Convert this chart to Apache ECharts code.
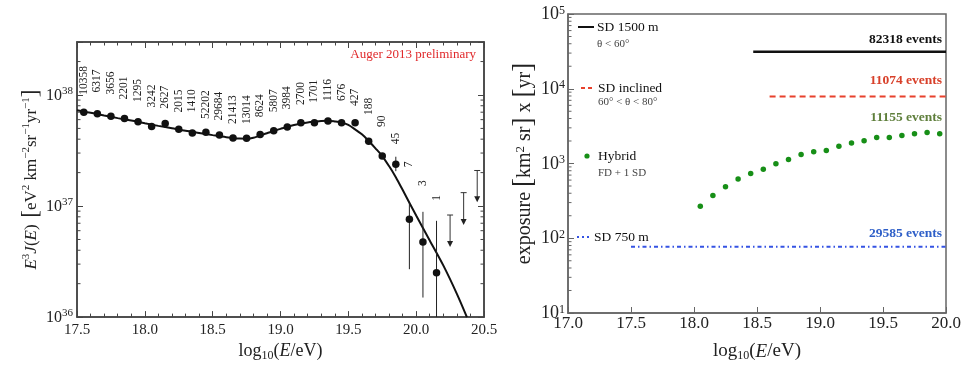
<!DOCTYPE html>
<html><head><meta charset="utf-8">
<script src="https://cdn.jsdelivr.net/npm/echarts@6/dist/echarts.min.js"></script>
<style>html,body{margin:0;padding:0;background:#fff}#c{width:969px;height:367px}</style>
</head><body><div id="c"></div><script>
// ---------- Left panel: energy spectrum ----------
const binCenters = [17.55,17.65,17.75,17.85,17.95,18.05,18.15,18.25,18.35,18.45,18.55,18.65,18.75,18.85,18.95,19.05,19.15,19.25,19.35,19.45,19.55,19.65,19.75,19.85,19.95,20.05,20.15];
const fluxValues = [6.98e37,6.79e37,6.44e37,6.14e37,5.74e37,5.20e37,5.54e37,4.92e37,4.54e37,4.61e37,4.36e37,4.10e37,4.08e37,4.40e37,4.77e37,5.16e37,5.63e37,5.63e37,5.82e37,5.63e37,5.63e37,3.84e37,2.82e37,2.38e37,7.60e36,4.75e36,2.51e36];
const eventCounts = ['10358','6317','3656','2201','1295','3242','2627','2015','1410','52202','29684','21413','13014','8624','5807','3984','2700','1701','1116','676','427','188','90','45','7','3','1'];
const errorBins = [19.65,19.75,19.85,19.95,20.05,20.15];
const errorLow = [3.70e37,2.68e37,2.06e37,2.70e36,1.50e36,1.0e36];
const errorHigh = [3.98e37,2.97e37,2.78e37,1.06e37,8.87e36,7.36e36];
const limitBins = [20.25,20.35,20.45];
const limitTop = [8.30e36,1.32e37,2.09e37];
const limitTip = [4.27e36,6.76e36,1.08e37];
const fitEnergy = [17.5,17.55,17.6,17.7,17.8,17.9,18.0,18.1,18.2,18.3,18.4,18.5,18.6,18.7,18.75,18.8,18.9,19.0,19.1,19.2,19.3,19.35,19.4,19.45,19.5,19.55,19.6,19.65,19.7,19.75,19.8,19.85,19.9,20.0,20.1,20.2,20.3,20.374];
const fitFlux = [7.28e37,7.08e37,6.92e37,6.53e37,6.19e37,5.89e37,5.56e37,5.27e37,5.01e37,4.76e37,4.55e37,4.35e37,4.17e37,4.05e37,4.04e37,4.12e37,4.52e37,4.95e37,5.37e37,5.65e37,5.82e37,5.86e37,5.78e37,5.65e37,5.37e37,4.90e37,4.42e37,3.85e37,3.31e37,2.82e37,2.29e37,1.82e37,1.40e37,8.22e36,4.90e36,2.92e36,1.62e36,1.0e36];
const spectrumXRange = [17.5, 20.5];
const spectrumYRange = [1e36, 3e38];
const spectrumMinorTicks = [2e36,3e36,4e36,5e36,6e36,7e36,8e36,9e36,2e37,3e37,4e37,5e37,6e37,7e37,8e37,9e37,2e38];
const spectrumTitle = 'Auger 2013 preliminary';

// ---------- Right panel: exposure ----------
const exposureXRange = [17.0, 20.0];
const exposureYRange = [1e1, 1e5];
const exposureMinorTicks = [20,30,40,50,60,70,80,90,200,300,400,500,600,700,800,900,2e3,3e3,4e3,5e3,6e3,7e3,8e3,9e3,2e4,3e4,4e4,5e4,6e4,7e4,8e4,9e4];
const hybridEnergy = [18.05,18.15,18.25,18.35,18.45,18.55,18.65,18.75,18.85,18.95,19.05,19.15,19.25,19.35,19.45,19.55,19.65,19.75,19.85,19.95];
const hybridExposure = [267,373,490,618,735,838,993,1132,1318,1432,1491,1702,1881,2015,2233,2233,2372,2494,2603,2494];
const sd1500Range = [18.47, 20.0];
const sd1500Exposure = 31300;
const sdInclinedRange = [18.6, 20.0];
const sdInclinedExposure = 7900;
const sd750Range = [17.5, 20.0];
const sd750Exposure = 77;
const legendNames = ['SD 1500 m','SD inclined','Hybrid','SD 750 m'];
const legendNotes = ['θ < 60°','60° < θ < 80°','FD + 1 SD',''];
const eventTotals = ['82318 events','11074 events','11155 events','29585 events'];

// ---------- styling (not data) ----------
const SERIF = 'Liberation Serif';
const AX = '#444';
const labelGap = [17.6,21,21.7,19,19.7,19,14.7,16.7,20.7,13.3,14.4,14,14.3,17.3,18.3,17.6,17.7,20,20,21.7,16.7,24,26,16,51,54,70];
const labelShift = [0,0,0,0,0,0,0,0,0,0,0,0,0,0,0,0,0,0,0,0,0,2,3,4,1,2,2];
const C_BLACK = '#111', C_RED = '#e8412c', C_GREEN = '#178f17', C_BLUE = '#3553e3';

function powLabel(v) {
  const e = Math.log10(v);
  const r = Math.round(e);
  if (Math.abs(e - r) > 1e-6) return '';
  return '{n|10}{s|' + r + '}';
}
const powRich = (fs, ss) => ({
  n: {fontFamily: SERIF, fontSize: fs, color: '#222', verticalAlign: 'bottom'},
  s: {fontFamily: SERIF, fontSize: ss, color: '#222', verticalAlign: 'bottom', padding: [0,0,7,0]}
});
const nameRich = (fs) => ({
  n: {fontFamily: SERIF, fontSize: fs, color: '#222', verticalAlign: 'top'},
  i: {fontFamily: SERIF, fontSize: fs, color: '#222', fontStyle: 'italic', verticalAlign: 'top'},
  d: {fontFamily: SERIF, fontSize: Math.round(fs*0.65), color: '#222', verticalAlign: 'top', padding: [8,0,0,0]}
});
const yNameRich = (fs) => ({
  n: {fontFamily: SERIF, fontSize: fs, color: '#222', verticalAlign: 'bottom'},
  i: {fontFamily: SERIF, fontSize: fs, color: '#222', fontStyle: 'italic', verticalAlign: 'bottom'},
  s: {fontFamily: SERIF, fontSize: Math.round(fs*0.65), color: '#222', verticalAlign: 'bottom', padding: [0,0,8,0]},
  b: {fontFamily: SERIF, fontSize: Math.round(fs*1.35), color: '#222', verticalAlign: 'bottom', padding: [0,0,-2,0]}
});

const pointData = binCenters.map((x, i) => ({
  value: [x, fluxValues[i]],
  label: {distance: labelGap[i] - 3.7, offset: [labelShift[i], 0]}
}));

function errRender(params, api) {
  const x = api.value(0);
  const p1 = api.coord([x, api.value(1)]);
  const p2 = api.coord([x, api.value(2)]);
  return {type: 'line', shape: {x1: p1[0], y1: p1[1], x2: p2[0], y2: p2[1]}, style: {stroke: '#222', lineWidth: 1}};
}
function limitRender(params, api) {
  const x = api.value(0);
  const pt = api.coord([x, api.value(1)]);
  const pb = api.coord([x, api.value(2)]);
  return {type: 'group', children: [
    {type: 'line', shape: {x1: pt[0], y1: pt[1], x2: pb[0], y2: pb[1] - 4}, style: {stroke: '#333', lineWidth: 1}},
    {type: 'line', shape: {x1: pt[0] - 3, y1: pt[1], x2: pt[0] + 3, y2: pt[1]}, style: {stroke: '#333', lineWidth: 1}},
    {type: 'polygon', shape: {points: [[pb[0] - 3, pb[1] - 6], [pb[0] + 3, pb[1] - 6], [pb[0], pb[1]]]}, style: {fill: '#222'}}
  ]};
}
// minor log ticks drawn on the frame edges (axis decoration)
function minorTickRender(xRange, both, color) {
  return function (params, api) {
    const v = api.value(0);
    const pl = api.coord([xRange[0], v]);
    const pr = api.coord([xRange[1], v]);
    const kids = [{type: 'line', shape: {x1: pl[0], y1: pl[1], x2: pl[0] + 3.5, y2: pl[1]}, style: {stroke: color, lineWidth: 1}}];
    if (both) kids.push({type: 'line', shape: {x1: pr[0] - 3.5, y1: pr[1], x2: pr[0], y2: pr[1]}, style: {stroke: color, lineWidth: 1}});
    return {type: 'group', children: kids};
  };
}

const chart = echarts.init(document.getElementById('c'), null, {renderer: 'canvas'});
const tickInside = (len, color) => ({show: true, inside: true, length: len, lineStyle: {color: color || AX, width: 1}});

const option = {
  animation: false,
  backgroundColor: '#fff',
  grid: [
    {left: 77, right: 485, top: 42, bottom: 42, show: true, borderColor: AX, borderWidth: 1.5, backgroundColor: 'transparent'},
    {left: 568, right: 23, top: 14, bottom: 49, show: true, borderColor: '#666', borderWidth: 1.5, backgroundColor: 'transparent'}
  ],
  xAxis: [
    {gridIndex: 0, type: 'value', min: spectrumXRange[0], max: spectrumXRange[1], interval: 0.5,
     axisLine: {show: true, onZero: false, lineStyle: {color: AX, width: 1.5}},
     axisTick: tickInside(6), minorTick: {show: true, splitNumber: 5, length: 3.5, lineStyle: {color: AX}},
     splitLine: {show: false},
     axisLabel: {fontFamily: SERIF, fontSize: 15, color: '#222', margin: 5, formatter: v => v.toFixed(1)},
     name: '{n|log}{d|10}{n|(}{i|E}{n|/eV)}', nameLocation: 'middle', nameGap: 21,
     nameTextStyle: {rich: nameRich(18)}},
    {gridIndex: 0, type: 'value', position: 'top', min: spectrumXRange[0], max: spectrumXRange[1], interval: 0.5,
     axisLine: {show: true, onZero: false, lineStyle: {color: AX, width: 1.5}},
     axisTick: tickInside(6), minorTick: {show: true, splitNumber: 5, length: 3.5, lineStyle: {color: AX}},
     splitLine: {show: false}, axisLabel: {show: false}},
    {gridIndex: 1, type: 'value', min: exposureXRange[0], max: exposureXRange[1], interval: 0.5,
     axisLine: {show: true, onZero: false, lineStyle: {color: '#666', width: 1.5}},
     axisTick: tickInside(6, '#666'), splitLine: {show: false},
     axisLabel: {fontFamily: SERIF, fontSize: 17, color: '#222', margin: 2, formatter: v => v.toFixed(1)},
     name: '{n|log}{d|10}{n|(}{i|E}{n|/eV)}', nameLocation: 'middle', nameGap: 29,
     nameTextStyle: {rich: nameRich(19)}}
  ],
  yAxis: [
    {gridIndex: 0, type: 'log', logBase: 10, min: spectrumYRange[0], max: spectrumYRange[1],
     axisLine: {show: true, onZero: false, lineStyle: {color: AX, width: 1.5}},
     axisTick: tickInside(6), splitLine: {show: false},
     axisLabel: {margin: 4, formatter: powLabel, rich: powRich(16, 11)},
     name: '{i|E}{s|3}{i|J}{n|(}{i|E}{n|)}  {b|[}{n|eV}{s|2}{n| km}{s|−2}{n|sr}{s|−1}{n|yr}{s|−1}{b|]}',
     nameLocation: 'middle', nameRotate: 90, nameGap: 36,
     nameTextStyle: {rich: yNameRich(17)}},
    {gridIndex: 0, type: 'log', logBase: 10, position: 'right', min: spectrumYRange[0], max: spectrumYRange[1],
     axisLine: {show: true, onZero: false, lineStyle: {color: AX, width: 1.5}},
     axisTick: tickInside(6), splitLine: {show: false}, axisLabel: {show: false}},
    {gridIndex: 1, type: 'log', logBase: 10, min: exposureYRange[0], max: exposureYRange[1],
     axisLine: {show: true, onZero: false, lineStyle: {color: '#666', width: 1.5}},
     axisTick: tickInside(6, '#666'), splitLine: {show: false},
     axisLabel: {margin: 3, formatter: powLabel, rich: powRich(18, 12)},
     name: '{n|exposure }{b|[}{n|km}{s|2}{n| sr}{b|]}{n| x }{b|[}{n|yr}{b|]}',
     nameLocation: 'middle', nameRotate: 90, nameGap: 30,
     nameTextStyle: {rich: yNameRich(20)}}
  ],
  series: [
    {type: 'custom', xAxisIndex: 0, yAxisIndex: 0, renderItem: minorTickRender(spectrumXRange, true, AX),
     data: spectrumMinorTicks.map(v => [v]), encode: {y: 0}, silent: true, z: 1},
    {type: 'custom', xAxisIndex: 2, yAxisIndex: 2, renderItem: minorTickRender(exposureXRange, false, '#666'),
     data: exposureMinorTicks.map(v => [v]), encode: {y: 0}, silent: true, z: 1},
    {type: 'line', xAxisIndex: 0, yAxisIndex: 0, data: fitEnergy.map((x, i) => [x, fitFlux[i]]),
     showSymbol: false, smooth: 0.3, lineStyle: {color: '#111', width: 2}, z: 2, silent: true},
    {type: 'custom', xAxisIndex: 0, yAxisIndex: 0, renderItem: errRender, clip: true,
     data: errorBins.map((x, i) => [x, errorLow[i], errorHigh[i]]), encode: {x: 0, y: [1, 2]}, z: 3},
    {type: 'custom', xAxisIndex: 0, yAxisIndex: 0, renderItem: limitRender, clip: true,
     data: limitBins.map((x, i) => [x, limitTop[i], limitTip[i]]), encode: {x: 0, y: [1, 2]}, z: 3},
    {type: 'scatter', xAxisIndex: 0, yAxisIndex: 0, data: pointData, symbol: 'circle', symbolSize: 7.5,
     itemStyle: {color: '#111', opacity: 1}, z: 4,
     label: {show: true, position: 'top', rotate: 90, align: 'left', verticalAlign: 'middle',
             fontFamily: SERIF, fontSize: 11.5, color: '#222',
             formatter: p => eventCounts[p.dataIndex]}},
    // right panel
    {type: 'line', xAxisIndex: 2, yAxisIndex: 2, data: sd1500Range.map(x => [x, sd1500Exposure]),
     showSymbol: false, lineStyle: {color: C_BLACK, width: 2.5}, z: 3},
    {type: 'line', xAxisIndex: 2, yAxisIndex: 2, data: sdInclinedRange.map(x => [x, sdInclinedExposure]),
     showSymbol: false, lineStyle: {color: C_RED, width: 2, type: [6, 4]}, z: 3},
    {type: 'scatter', xAxisIndex: 2, yAxisIndex: 2, data: hybridEnergy.map((x, i) => [x, hybridExposure[i]]),
     symbolSize: 5.5, itemStyle: {color: C_GREEN, opacity: 1}, z: 3},
    {type: 'line', xAxisIndex: 2, yAxisIndex: 2, data: sd750Range.map(x => [x, sd750Exposure]),
     showSymbol: false, lineStyle: {color: C_BLUE, width: 2, type: [4, 3, 1.5, 3]}, z: 3}
  ],
  graphic: [
    {type: 'text', right: 969 - 476, top: 48, style: {text: spectrumTitle, font: '13px "Liberation Serif"', fill: '#e0282a'}},
    {type: 'line', shape: {x1: 578, y1: 27, x2: 594, y2: 27}, style: {stroke: C_BLACK, lineWidth: 2}},
    {type: 'text', x: 597, y: 27, style: {text: legendNames[0], font: '13.5px "Liberation Serif"', fill: '#111', verticalAlign: 'middle'}},
    {type: 'text', x: 597, y: 44, style: {text: legendNotes[0], font: '11px "Liberation Serif"', fill: '#444', verticalAlign: 'middle'}},
    {type: 'line', shape: {x1: 581, y1: 88, x2: 595, y2: 88}, style: {stroke: C_RED, lineWidth: 2, lineDash: [4, 3]}},
    {type: 'text', x: 598, y: 88, style: {text: legendNames[1], font: '13.5px "Liberation Serif"', fill: '#111', verticalAlign: 'middle'}},
    {type: 'text', x: 598, y: 102, style: {text: legendNotes[1], font: '11px "Liberation Serif"', fill: '#444', verticalAlign: 'middle'}},
    {type: 'circle', shape: {cx: 587, cy: 156, r: 2.6}, style: {fill: C_GREEN}},
    {type: 'text', x: 598, y: 156, style: {text: legendNames[2], font: '13.5px "Liberation Serif"', fill: '#111', verticalAlign: 'middle'}},
    {type: 'text', x: 598, y: 173, style: {text: legendNotes[2], font: '11px "Liberation Serif"', fill: '#444', verticalAlign: 'middle'}},
    {type: 'line', shape: {x1: 577, y1: 237, x2: 592, y2: 237}, style: {stroke: C_BLUE, lineWidth: 2, lineDash: [2, 3]}},
    {type: 'text', x: 594, y: 237, style: {text: legendNames[3], font: '13.5px "Liberation Serif"', fill: '#111', verticalAlign: 'middle'}},
    {type: 'text', x: 942, y: 40, style: {text: eventTotals[0], font: 'bold 13.5px "Liberation Serif"', fill: '#111', align: 'right', verticalAlign: 'middle'}},
    {type: 'text', x: 942, y: 81, style: {text: eventTotals[1], font: 'bold 13.5px "Liberation Serif"', fill: '#d8402a', align: 'right', verticalAlign: 'middle'}},
    {type: 'text', x: 942, y: 118, style: {text: eventTotals[2], font: 'bold 13.5px "Liberation Serif"', fill: '#5f7f3c', align: 'right', verticalAlign: 'middle'}},
    {type: 'text', x: 942, y: 234, style: {text: eventTotals[3], font: 'bold 13.5px "Liberation Serif"', fill: '#2e5fc8', align: 'right', verticalAlign: 'middle'}}
  ]
};
chart.setOption(option);
</script></body></html>
